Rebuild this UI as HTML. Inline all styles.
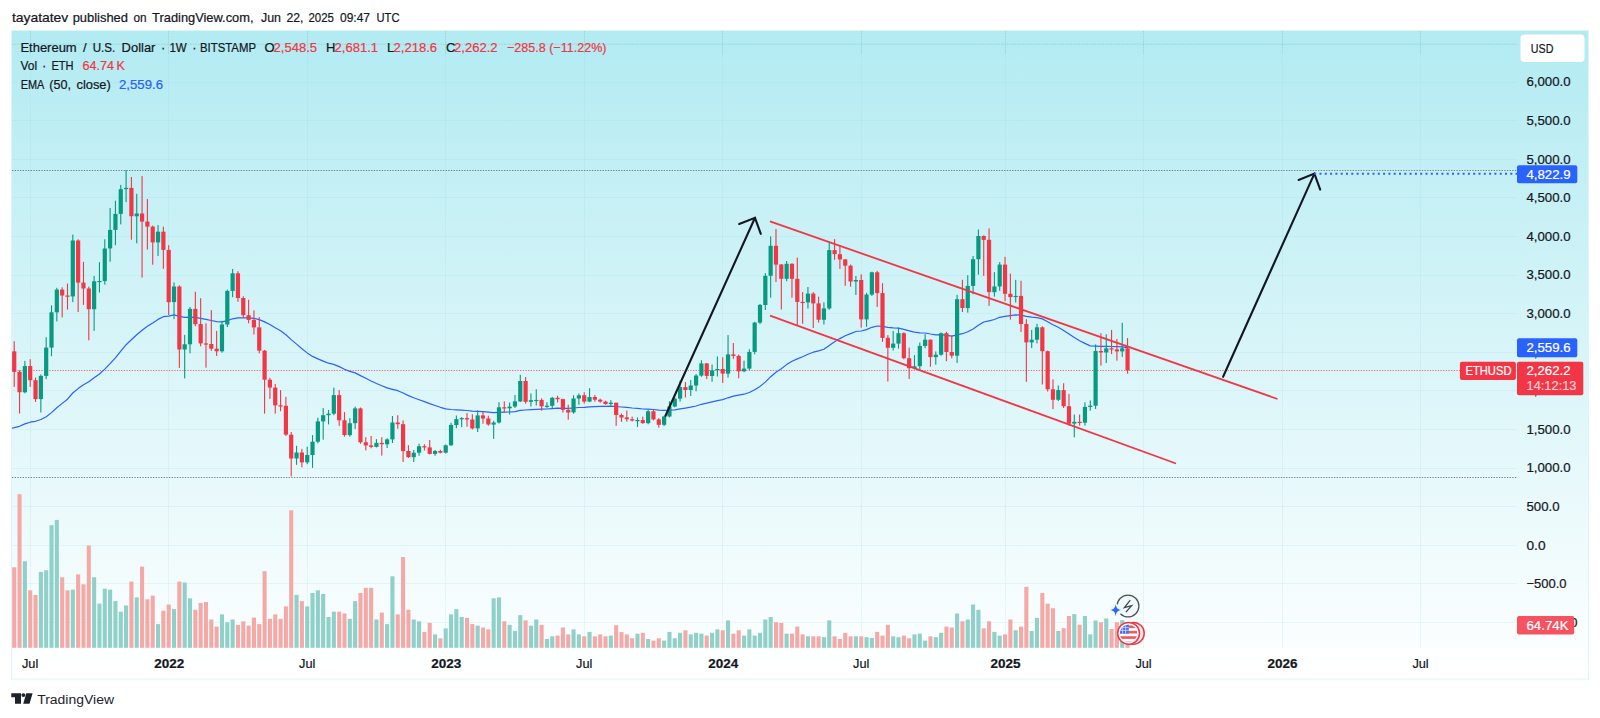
<!DOCTYPE html>
<html><head><meta charset="utf-8"><title>ETHUSD</title>
<style>
html,body{margin:0;padding:0;background:#fff;}
body{width:1600px;height:718px;overflow:hidden;font-family:"Liberation Sans", sans-serif;}
svg{display:block}
text{font-family:"Liberation Sans", sans-serif;}
</style></head><body>
<svg width="1600" height="718" viewBox="0 0 1600 718">
<defs>
<linearGradient id="bg" x1="0" y1="0" x2="0" y2="1">
<stop offset="0" stop-color="#b2ebf2"/><stop offset="1" stop-color="#ffffff"/>
</linearGradient>
<clipPath id="pane"><rect x="12" y="30" width="1505" height="618"/></clipPath>
</defs>
<rect x="0" y="0" width="1600" height="718" fill="#fff"/>
<rect x="11.5" y="30" width="1577.5" height="649" fill="url(#bg)"/>
<rect x="12" y="648" width="1577" height="31" fill="#ffffff" opacity="0.55"/>

<g stroke="#8fd3dc" stroke-opacity="0.16" stroke-width="1" shape-rendering="crispEdges">
<line x1="12" y1="622.5" x2="1517" y2="622.5"/>
<line x1="12" y1="583.5" x2="1517" y2="583.5"/>
<line x1="12" y1="545.5" x2="1517" y2="545.5"/>
<line x1="12" y1="506.5" x2="1517" y2="506.5"/>
<line x1="12" y1="468.5" x2="1517" y2="468.5"/>
<line x1="12" y1="429.5" x2="1517" y2="429.5"/>
<line x1="12" y1="390.5" x2="1517" y2="390.5"/>
<line x1="12" y1="352.5" x2="1517" y2="352.5"/>
<line x1="12" y1="313.5" x2="1517" y2="313.5"/>
<line x1="12" y1="275.5" x2="1517" y2="275.5"/>
<line x1="12" y1="236.5" x2="1517" y2="236.5"/>
<line x1="12" y1="197.5" x2="1517" y2="197.5"/>
<line x1="12" y1="159.5" x2="1517" y2="159.5"/>
<line x1="12" y1="120.5" x2="1517" y2="120.5"/>
<line x1="12" y1="82.5" x2="1517" y2="82.5"/>
<line x1="12" y1="43.5" x2="1517" y2="43.5"/>
<line x1="30.5" y1="30" x2="30.5" y2="648"/>
<line x1="168.5" y1="30" x2="168.5" y2="648"/>
<line x1="307.5" y1="30" x2="307.5" y2="648"/>
<line x1="445.5" y1="30" x2="445.5" y2="648"/>
<line x1="584.5" y1="30" x2="584.5" y2="648"/>
<line x1="722.5" y1="30" x2="722.5" y2="648"/>
<line x1="861.5" y1="30" x2="861.5" y2="648"/>
<line x1="1005.5" y1="30" x2="1005.5" y2="648"/>
<line x1="1143.5" y1="30" x2="1143.5" y2="648"/>
<line x1="1282.5" y1="30" x2="1282.5" y2="648"/>
<line x1="1420.5" y1="30" x2="1420.5" y2="648"/>
</g>
<g stroke="#7fbcb8" stroke-opacity="0.42" stroke-width="1" stroke-dasharray="1.33 1.33">
<line x1="12" y1="44.5" x2="1517" y2="44.5"/>
<line x1="30.5" y1="31" x2="30.5" y2="55"/>
<line x1="168.5" y1="31" x2="168.5" y2="55"/>
<line x1="307.5" y1="31" x2="307.5" y2="55"/>
<line x1="445.5" y1="31" x2="445.5" y2="55"/>
<line x1="584.5" y1="31" x2="584.5" y2="55"/>
<line x1="722.5" y1="31" x2="722.5" y2="55"/>
<line x1="861.5" y1="31" x2="861.5" y2="55"/>
<line x1="1005.5" y1="31" x2="1005.5" y2="55"/>
<line x1="1143.5" y1="31" x2="1143.5" y2="55"/>
<line x1="1282.5" y1="31" x2="1282.5" y2="55"/>
<line x1="1420.5" y1="31" x2="1420.5" y2="55"/>
</g>
<rect x="11.5" y="30.5" width="1577" height="648.5" fill="none" stroke="#def4f7" stroke-width="1"/>
<g clip-path="url(#pane)">
<g>
<rect x="12.17" y="567.3" width="4.1" height="80.5" fill="#f5a9a7"/>
<rect x="17.50" y="494.2" width="4.1" height="153.6" fill="#f5a9a7"/>
<rect x="22.82" y="561.3" width="4.1" height="86.5" fill="#8fd0c9"/>
<rect x="28.15" y="590.3" width="4.1" height="57.5" fill="#f5a9a7"/>
<rect x="33.48" y="594.9" width="4.1" height="52.9" fill="#f5a9a7"/>
<rect x="38.80" y="571.9" width="4.1" height="75.9" fill="#8fd0c9"/>
<rect x="44.13" y="570.3" width="4.1" height="77.5" fill="#8fd0c9"/>
<rect x="49.46" y="525.2" width="4.1" height="122.6" fill="#8fd0c9"/>
<rect x="54.78" y="519.9" width="4.1" height="127.9" fill="#8fd0c9"/>
<rect x="60.11" y="577.2" width="4.1" height="70.6" fill="#f5a9a7"/>
<rect x="65.44" y="590.3" width="4.1" height="57.5" fill="#f5a9a7"/>
<rect x="70.77" y="589.6" width="4.1" height="58.2" fill="#8fd0c9"/>
<rect x="76.09" y="574.4" width="4.1" height="73.4" fill="#f5a9a7"/>
<rect x="81.42" y="584.3" width="4.1" height="63.5" fill="#f5a9a7"/>
<rect x="86.75" y="545.5" width="4.1" height="102.3" fill="#f5a9a7"/>
<rect x="92.07" y="577.2" width="4.1" height="70.6" fill="#8fd0c9"/>
<rect x="97.40" y="603.6" width="4.1" height="44.2" fill="#8fd0c9"/>
<rect x="102.73" y="588.7" width="4.1" height="59.1" fill="#8fd0c9"/>
<rect x="108.06" y="589.6" width="4.1" height="58.2" fill="#8fd0c9"/>
<rect x="113.38" y="601.1" width="4.1" height="46.7" fill="#8fd0c9"/>
<rect x="118.71" y="611.7" width="4.1" height="36.1" fill="#8fd0c9"/>
<rect x="124.04" y="605.5" width="4.1" height="42.3" fill="#8fd0c9"/>
<rect x="129.36" y="581.6" width="4.1" height="66.2" fill="#f5a9a7"/>
<rect x="134.69" y="597.4" width="4.1" height="50.4" fill="#8fd0c9"/>
<rect x="140.02" y="566.6" width="4.1" height="81.2" fill="#f5a9a7"/>
<rect x="145.34" y="599.3" width="4.1" height="48.5" fill="#f5a9a7"/>
<rect x="150.67" y="595.6" width="4.1" height="52.2" fill="#f5a9a7"/>
<rect x="156.00" y="624.1" width="4.1" height="23.7" fill="#8fd0c9"/>
<rect x="161.32" y="610.7" width="4.1" height="37.1" fill="#f5a9a7"/>
<rect x="166.65" y="604.5" width="4.1" height="43.3" fill="#f5a9a7"/>
<rect x="171.98" y="609.1" width="4.1" height="38.7" fill="#8fd0c9"/>
<rect x="177.31" y="581.6" width="4.1" height="66.2" fill="#f5a9a7"/>
<rect x="182.63" y="582.5" width="4.1" height="65.3" fill="#8fd0c9"/>
<rect x="187.96" y="598.3" width="4.1" height="49.5" fill="#8fd0c9"/>
<rect x="193.29" y="609.8" width="4.1" height="38.0" fill="#f5a9a7"/>
<rect x="198.61" y="602.9" width="4.1" height="44.9" fill="#f5a9a7"/>
<rect x="203.94" y="602.0" width="4.1" height="45.8" fill="#f5a9a7"/>
<rect x="209.27" y="619.5" width="4.1" height="28.3" fill="#f5a9a7"/>
<rect x="214.59" y="626.6" width="4.1" height="21.2" fill="#f5a9a7"/>
<rect x="219.92" y="614.4" width="4.1" height="33.4" fill="#8fd0c9"/>
<rect x="225.25" y="622.2" width="4.1" height="25.6" fill="#8fd0c9"/>
<rect x="230.58" y="619.5" width="4.1" height="28.3" fill="#8fd0c9"/>
<rect x="235.90" y="625.0" width="4.1" height="22.8" fill="#f5a9a7"/>
<rect x="241.23" y="621.3" width="4.1" height="26.5" fill="#f5a9a7"/>
<rect x="246.56" y="625.7" width="4.1" height="22.1" fill="#f5a9a7"/>
<rect x="251.88" y="617.6" width="4.1" height="30.2" fill="#f5a9a7"/>
<rect x="257.21" y="624.1" width="4.1" height="23.7" fill="#f5a9a7"/>
<rect x="262.54" y="571.2" width="4.1" height="76.6" fill="#f5a9a7"/>
<rect x="267.87" y="618.8" width="4.1" height="29.0" fill="#f5a9a7"/>
<rect x="273.19" y="614.4" width="4.1" height="33.4" fill="#f5a9a7"/>
<rect x="278.52" y="618.8" width="4.1" height="29.0" fill="#f5a9a7"/>
<rect x="283.85" y="606.4" width="4.1" height="41.4" fill="#f5a9a7"/>
<rect x="289.17" y="510.3" width="4.1" height="137.5" fill="#f5a9a7"/>
<rect x="294.50" y="594.9" width="4.1" height="52.9" fill="#8fd0c9"/>
<rect x="299.83" y="601.1" width="4.1" height="46.7" fill="#f5a9a7"/>
<rect x="305.15" y="606.4" width="4.1" height="41.4" fill="#8fd0c9"/>
<rect x="310.48" y="593.0" width="4.1" height="54.8" fill="#8fd0c9"/>
<rect x="315.81" y="590.3" width="4.1" height="57.5" fill="#8fd0c9"/>
<rect x="321.13" y="594.0" width="4.1" height="53.8" fill="#8fd0c9"/>
<rect x="326.46" y="617.0" width="4.1" height="30.8" fill="#8fd0c9"/>
<rect x="331.79" y="611.7" width="4.1" height="36.1" fill="#8fd0c9"/>
<rect x="337.12" y="611.7" width="4.1" height="36.1" fill="#f5a9a7"/>
<rect x="342.44" y="613.5" width="4.1" height="34.3" fill="#f5a9a7"/>
<rect x="347.77" y="618.8" width="4.1" height="29.0" fill="#8fd0c9"/>
<rect x="353.10" y="601.1" width="4.1" height="46.7" fill="#8fd0c9"/>
<rect x="358.42" y="593.0" width="4.1" height="54.8" fill="#f5a9a7"/>
<rect x="363.75" y="587.8" width="4.1" height="60.0" fill="#f5a9a7"/>
<rect x="369.08" y="587.8" width="4.1" height="60.0" fill="#f5a9a7"/>
<rect x="374.40" y="619.5" width="4.1" height="28.3" fill="#8fd0c9"/>
<rect x="379.73" y="612.6" width="4.1" height="35.2" fill="#f5a9a7"/>
<rect x="385.06" y="624.1" width="4.1" height="23.7" fill="#8fd0c9"/>
<rect x="390.39" y="576.3" width="4.1" height="71.5" fill="#8fd0c9"/>
<rect x="395.71" y="614.4" width="4.1" height="33.4" fill="#f5a9a7"/>
<rect x="401.04" y="557.0" width="4.1" height="90.8" fill="#f5a9a7"/>
<rect x="406.37" y="609.8" width="4.1" height="38.0" fill="#f5a9a7"/>
<rect x="411.69" y="619.5" width="4.1" height="28.3" fill="#8fd0c9"/>
<rect x="417.02" y="621.3" width="4.1" height="26.5" fill="#8fd0c9"/>
<rect x="422.35" y="631.9" width="4.1" height="15.9" fill="#f5a9a7"/>
<rect x="427.67" y="622.9" width="4.1" height="24.9" fill="#f5a9a7"/>
<rect x="433.00" y="634.4" width="4.1" height="13.4" fill="#8fd0c9"/>
<rect x="438.33" y="638.3" width="4.1" height="9.5" fill="#f5a9a7"/>
<rect x="443.66" y="628.4" width="4.1" height="19.4" fill="#8fd0c9"/>
<rect x="448.98" y="614.4" width="4.1" height="33.4" fill="#8fd0c9"/>
<rect x="454.31" y="609.1" width="4.1" height="38.7" fill="#8fd0c9"/>
<rect x="459.64" y="617.0" width="4.1" height="30.8" fill="#8fd0c9"/>
<rect x="464.96" y="617.9" width="4.1" height="29.9" fill="#f5a9a7"/>
<rect x="470.29" y="624.1" width="4.1" height="23.7" fill="#f5a9a7"/>
<rect x="475.62" y="625.7" width="4.1" height="22.1" fill="#8fd0c9"/>
<rect x="480.94" y="627.5" width="4.1" height="20.3" fill="#f5a9a7"/>
<rect x="486.27" y="629.4" width="4.1" height="18.4" fill="#f5a9a7"/>
<rect x="491.60" y="598.3" width="4.1" height="49.5" fill="#8fd0c9"/>
<rect x="496.93" y="597.4" width="4.1" height="50.4" fill="#8fd0c9"/>
<rect x="502.25" y="621.3" width="4.1" height="26.5" fill="#f5a9a7"/>
<rect x="507.58" y="624.8" width="4.1" height="23.0" fill="#8fd0c9"/>
<rect x="512.91" y="631.0" width="4.1" height="16.8" fill="#8fd0c9"/>
<rect x="518.23" y="615.1" width="4.1" height="32.7" fill="#8fd0c9"/>
<rect x="523.56" y="620.4" width="4.1" height="27.4" fill="#f5a9a7"/>
<rect x="528.89" y="625.7" width="4.1" height="22.1" fill="#8fd0c9"/>
<rect x="534.22" y="619.5" width="4.1" height="28.3" fill="#8fd0c9"/>
<rect x="539.54" y="624.8" width="4.1" height="23.0" fill="#f5a9a7"/>
<rect x="544.87" y="639.0" width="4.1" height="8.8" fill="#8fd0c9"/>
<rect x="550.20" y="636.3" width="4.1" height="11.5" fill="#8fd0c9"/>
<rect x="555.52" y="635.6" width="4.1" height="12.2" fill="#f5a9a7"/>
<rect x="560.85" y="627.5" width="4.1" height="20.3" fill="#f5a9a7"/>
<rect x="566.18" y="634.4" width="4.1" height="13.4" fill="#f5a9a7"/>
<rect x="571.50" y="629.4" width="4.1" height="18.4" fill="#8fd0c9"/>
<rect x="576.83" y="634.4" width="4.1" height="13.4" fill="#8fd0c9"/>
<rect x="582.16" y="636.3" width="4.1" height="11.5" fill="#f5a9a7"/>
<rect x="587.49" y="631.9" width="4.1" height="15.9" fill="#8fd0c9"/>
<rect x="592.81" y="636.3" width="4.1" height="11.5" fill="#f5a9a7"/>
<rect x="598.14" y="634.4" width="4.1" height="13.4" fill="#f5a9a7"/>
<rect x="603.47" y="636.3" width="4.1" height="11.5" fill="#f5a9a7"/>
<rect x="608.79" y="635.6" width="4.1" height="12.2" fill="#8fd0c9"/>
<rect x="614.12" y="625.2" width="4.1" height="22.6" fill="#f5a9a7"/>
<rect x="619.45" y="632.1" width="4.1" height="15.7" fill="#f5a9a7"/>
<rect x="624.77" y="634.4" width="4.1" height="13.4" fill="#f5a9a7"/>
<rect x="630.10" y="638.3" width="4.1" height="9.5" fill="#f5a9a7"/>
<rect x="635.43" y="633.7" width="4.1" height="14.1" fill="#8fd0c9"/>
<rect x="640.76" y="632.8" width="4.1" height="15.0" fill="#f5a9a7"/>
<rect x="646.08" y="639.0" width="4.1" height="8.8" fill="#8fd0c9"/>
<rect x="651.41" y="640.6" width="4.1" height="7.2" fill="#f5a9a7"/>
<rect x="656.74" y="638.3" width="4.1" height="9.5" fill="#f5a9a7"/>
<rect x="662.06" y="640.6" width="4.1" height="7.2" fill="#8fd0c9"/>
<rect x="667.39" y="631.9" width="4.1" height="15.9" fill="#8fd0c9"/>
<rect x="672.72" y="638.3" width="4.1" height="9.5" fill="#8fd0c9"/>
<rect x="678.04" y="632.8" width="4.1" height="15.0" fill="#8fd0c9"/>
<rect x="683.37" y="630.3" width="4.1" height="17.5" fill="#f5a9a7"/>
<rect x="688.70" y="634.4" width="4.1" height="13.4" fill="#8fd0c9"/>
<rect x="694.03" y="632.8" width="4.1" height="15.0" fill="#8fd0c9"/>
<rect x="699.35" y="633.7" width="4.1" height="14.1" fill="#8fd0c9"/>
<rect x="704.68" y="635.6" width="4.1" height="12.2" fill="#f5a9a7"/>
<rect x="710.01" y="632.8" width="4.1" height="15.0" fill="#8fd0c9"/>
<rect x="715.33" y="629.4" width="4.1" height="18.4" fill="#8fd0c9"/>
<rect x="720.66" y="630.3" width="4.1" height="17.5" fill="#f5a9a7"/>
<rect x="725.99" y="620.4" width="4.1" height="27.4" fill="#8fd0c9"/>
<rect x="731.31" y="633.7" width="4.1" height="14.1" fill="#f5a9a7"/>
<rect x="736.64" y="630.3" width="4.1" height="17.5" fill="#f5a9a7"/>
<rect x="741.97" y="635.6" width="4.1" height="12.2" fill="#8fd0c9"/>
<rect x="747.30" y="629.4" width="4.1" height="18.4" fill="#8fd0c9"/>
<rect x="752.62" y="635.6" width="4.1" height="12.2" fill="#8fd0c9"/>
<rect x="757.95" y="632.8" width="4.1" height="15.0" fill="#8fd0c9"/>
<rect x="763.28" y="619.5" width="4.1" height="28.3" fill="#8fd0c9"/>
<rect x="768.60" y="617.0" width="4.1" height="30.8" fill="#8fd0c9"/>
<rect x="773.93" y="622.2" width="4.1" height="25.6" fill="#f5a9a7"/>
<rect x="779.26" y="622.9" width="4.1" height="24.9" fill="#f5a9a7"/>
<rect x="784.58" y="633.7" width="4.1" height="14.1" fill="#8fd0c9"/>
<rect x="789.91" y="633.7" width="4.1" height="14.1" fill="#f5a9a7"/>
<rect x="795.24" y="626.6" width="4.1" height="21.2" fill="#f5a9a7"/>
<rect x="800.57" y="634.4" width="4.1" height="13.4" fill="#f5a9a7"/>
<rect x="805.89" y="636.3" width="4.1" height="11.5" fill="#8fd0c9"/>
<rect x="811.22" y="636.3" width="4.1" height="11.5" fill="#f5a9a7"/>
<rect x="816.55" y="636.3" width="4.1" height="11.5" fill="#f5a9a7"/>
<rect x="821.87" y="637.2" width="4.1" height="10.6" fill="#8fd0c9"/>
<rect x="827.20" y="620.4" width="4.1" height="27.4" fill="#8fd0c9"/>
<rect x="832.53" y="636.3" width="4.1" height="11.5" fill="#f5a9a7"/>
<rect x="837.85" y="639.0" width="4.1" height="8.8" fill="#f5a9a7"/>
<rect x="843.18" y="632.8" width="4.1" height="15.0" fill="#f5a9a7"/>
<rect x="848.51" y="636.3" width="4.1" height="11.5" fill="#f5a9a7"/>
<rect x="853.84" y="636.3" width="4.1" height="11.5" fill="#8fd0c9"/>
<rect x="859.16" y="636.3" width="4.1" height="11.5" fill="#f5a9a7"/>
<rect x="864.49" y="637.2" width="4.1" height="10.6" fill="#8fd0c9"/>
<rect x="869.82" y="637.9" width="4.1" height="9.9" fill="#8fd0c9"/>
<rect x="875.14" y="631.9" width="4.1" height="15.9" fill="#f5a9a7"/>
<rect x="880.47" y="635.6" width="4.1" height="12.2" fill="#f5a9a7"/>
<rect x="885.80" y="624.8" width="4.1" height="23.0" fill="#f5a9a7"/>
<rect x="891.12" y="636.3" width="4.1" height="11.5" fill="#8fd0c9"/>
<rect x="896.45" y="637.2" width="4.1" height="10.6" fill="#8fd0c9"/>
<rect x="901.78" y="635.6" width="4.1" height="12.2" fill="#f5a9a7"/>
<rect x="907.11" y="638.3" width="4.1" height="9.5" fill="#f5a9a7"/>
<rect x="912.43" y="634.4" width="4.1" height="13.4" fill="#8fd0c9"/>
<rect x="917.76" y="633.7" width="4.1" height="14.1" fill="#8fd0c9"/>
<rect x="923.09" y="640.6" width="4.1" height="7.2" fill="#8fd0c9"/>
<rect x="928.41" y="636.3" width="4.1" height="11.5" fill="#f5a9a7"/>
<rect x="933.74" y="637.2" width="4.1" height="10.6" fill="#8fd0c9"/>
<rect x="939.07" y="632.8" width="4.1" height="15.0" fill="#8fd0c9"/>
<rect x="944.39" y="626.6" width="4.1" height="21.2" fill="#f5a9a7"/>
<rect x="949.72" y="627.5" width="4.1" height="20.3" fill="#f5a9a7"/>
<rect x="955.05" y="613.5" width="4.1" height="34.3" fill="#8fd0c9"/>
<rect x="960.38" y="621.3" width="4.1" height="26.5" fill="#f5a9a7"/>
<rect x="965.70" y="619.5" width="4.1" height="28.3" fill="#8fd0c9"/>
<rect x="971.03" y="604.5" width="4.1" height="43.3" fill="#8fd0c9"/>
<rect x="976.36" y="609.8" width="4.1" height="38.0" fill="#8fd0c9"/>
<rect x="981.68" y="628.4" width="4.1" height="19.4" fill="#f5a9a7"/>
<rect x="987.01" y="621.3" width="4.1" height="26.5" fill="#f5a9a7"/>
<rect x="992.34" y="631.9" width="4.1" height="15.9" fill="#8fd0c9"/>
<rect x="997.66" y="635.6" width="4.1" height="12.2" fill="#8fd0c9"/>
<rect x="1002.99" y="634.4" width="4.1" height="13.4" fill="#f5a9a7"/>
<rect x="1008.32" y="619.5" width="4.1" height="28.3" fill="#f5a9a7"/>
<rect x="1013.65" y="630.3" width="4.1" height="17.5" fill="#8fd0c9"/>
<rect x="1018.97" y="626.6" width="4.1" height="21.2" fill="#f5a9a7"/>
<rect x="1024.30" y="586.8" width="4.1" height="61.0" fill="#f5a9a7"/>
<rect x="1029.63" y="631.0" width="4.1" height="16.8" fill="#8fd0c9"/>
<rect x="1034.95" y="617.9" width="4.1" height="29.9" fill="#8fd0c9"/>
<rect x="1040.28" y="593.0" width="4.1" height="54.8" fill="#f5a9a7"/>
<rect x="1045.61" y="603.6" width="4.1" height="44.2" fill="#f5a9a7"/>
<rect x="1050.93" y="608.2" width="4.1" height="39.6" fill="#f5a9a7"/>
<rect x="1056.26" y="631.0" width="4.1" height="16.8" fill="#8fd0c9"/>
<rect x="1061.59" y="628.2" width="4.1" height="19.6" fill="#f5a9a7"/>
<rect x="1066.92" y="616.0" width="4.1" height="31.8" fill="#f5a9a7"/>
<rect x="1072.24" y="614.1" width="4.1" height="33.7" fill="#8fd0c9"/>
<rect x="1077.57" y="624.7" width="4.1" height="23.1" fill="#f5a9a7"/>
<rect x="1082.90" y="616.0" width="4.1" height="31.8" fill="#8fd0c9"/>
<rect x="1088.22" y="634.4" width="4.1" height="13.4" fill="#8fd0c9"/>
<rect x="1093.55" y="620.5" width="4.1" height="27.3" fill="#8fd0c9"/>
<rect x="1098.88" y="622.2" width="4.1" height="25.6" fill="#f5a9a7"/>
<rect x="1104.20" y="618.5" width="4.1" height="29.3" fill="#8fd0c9"/>
<rect x="1109.53" y="629.0" width="4.1" height="18.8" fill="#f5a9a7"/>
<rect x="1114.86" y="622.2" width="4.1" height="25.6" fill="#f5a9a7"/>
<rect x="1120.19" y="620.2" width="4.1" height="27.6" fill="#8fd0c9"/>
<rect x="1125.51" y="625.0" width="4.1" height="22.8" fill="#f5a9a7"/>
</g>
<g stroke="#5f6f73" stroke-opacity="0.85" stroke-width="1" stroke-dasharray="1.33 1.33">
<line x1="12" y1="170.5" x2="1517" y2="170.5"/>
<line x1="12" y1="477.5" x2="1517" y2="477.5"/>
</g>
<line x1="12" y1="370.5" x2="1517" y2="370.5" stroke="#f23645" stroke-opacity="0.7" stroke-width="1" stroke-dasharray="1.33 1.33"/>
<polyline points="8,428.9 14.2,427.7 19.5,426.3 24.9,423.9 30.2,422.2 35.5,421.3 40.9,419.5 46.2,416.7 51.5,412.6 56.8,407.8 62.2,403.4 67.5,399.2 72.8,393.0 78.1,388.6 83.5,384.7 88.8,381.7 94.1,377.8 99.5,374.0 104.8,369.1 110.1,363.6 115.4,357.8 120.8,351.1 126.1,344.7 131.4,339.7 136.7,334.8 142.1,330.3 147.4,326.3 152.7,323.0 158.0,319.4 163.4,316.7 168.7,316.1 174.0,314.9 179.4,316.3 184.7,317.4 190.0,317.1 195.3,317.3 200.7,318.4 206.0,319.4 211.3,320.5 216.6,321.7 222.0,321.8 227.3,320.6 232.6,318.8 238.0,317.9 243.3,317.8 248.6,317.9 253.9,318.3 259.3,319.6 264.6,321.9 269.9,324.5 275.2,327.7 280.6,330.7 285.9,334.8 291.2,339.6 296.6,344.1 301.9,348.7 307.2,352.9 312.5,356.4 317.9,358.9 323.2,361.1 328.5,363.2 333.8,364.4 339.2,366.6 344.5,369.3 349.8,371.4 355.1,372.9 360.5,375.6 365.8,378.3 371.1,381.0 376.5,383.5 381.8,385.8 387.1,387.9 392.4,389.3 397.8,390.7 403.1,393.0 408.4,395.6 413.7,397.8 419.1,399.7 424.4,401.6 429.7,403.6 435.1,405.5 440.4,407.3 445.7,408.8 451.0,409.5 456.4,409.8 461.7,410.2 467.0,410.5 472.3,411.2 477.7,411.4 483.0,411.7 488.3,412.2 493.6,412.6 499.0,412.4 504.3,412.2 509.6,412.0 515.0,411.6 520.3,410.4 525.6,410.0 530.9,409.7 536.3,409.3 541.6,409.2 546.9,409.0 552.2,408.6 557.6,408.2 562.9,408.3 568.2,408.4 573.6,408.0 578.9,407.5 584.2,407.3 589.5,406.9 594.9,406.6 600.2,406.4 605.5,406.3 610.8,406.2 616.2,406.5 621.5,407.0 626.8,407.4 632.2,408.0 637.5,408.4 642.8,409.0 648.1,409.1 653.5,409.5 658.8,410.1 664.1,410.4 669.4,410.2 674.8,409.8 680.1,408.9 685.4,408.1 690.7,407.2 696.1,406.0 701.4,404.3 706.7,403.2 712.1,401.9 717.4,400.6 722.7,399.6 728.0,397.8 733.4,396.2 738.7,395.2 744.0,394.2 749.3,392.5 754.7,389.8 760.0,386.4 765.3,382.1 770.7,376.7 776.0,372.3 781.3,368.7 786.6,364.6 792.0,361.2 797.3,358.9 802.6,356.7 807.9,354.2 813.3,352.2 818.6,350.9 823.9,349.3 829.2,345.4 834.6,341.8 839.9,338.6 845.2,335.7 850.6,333.6 855.9,331.5 861.2,331.0 866.5,329.6 871.9,327.3 877.2,326.0 882.5,326.4 887.8,327.3 893.2,327.9 898.5,328.1 903.8,329.3 909.2,330.8 914.5,332.2 919.8,332.8 925.1,333.0 930.5,334.0 935.8,334.8 941.1,334.7 946.4,335.4 951.8,336.2 957.1,334.8 962.4,333.7 967.8,331.8 973.1,329.0 978.4,325.3 983.7,322.0 989.1,320.8 994.4,319.5 999.7,317.3 1005.0,316.4 1010.4,315.6 1015.7,314.9 1021.0,315.2 1026.3,316.3 1031.7,317.2 1037.0,317.6 1042.3,318.9 1047.7,321.7 1053.0,324.7 1058.3,327.3 1063.6,330.4 1069.0,334.0 1074.3,337.5 1079.6,340.8 1084.9,343.4 1090.3,345.9 1095.6,346.1 1100.9,346.3 1106.3,346.4 1111.6,346.5 1116.9,346.7 1122.2,346.8 1127.6,347.7" fill="none" stroke="#2962ff" stroke-width="1.2" stroke-linejoin="round"/>
<g>
<rect x="13.67" y="341.2" width="1.1" height="45.7" fill="#f23645"/>
<rect x="12.12" y="351.4" width="4.2" height="20.5" fill="#f23645"/>
<rect x="19.00" y="370.4" width="1.1" height="43.1" fill="#f23645"/>
<rect x="17.45" y="371.8" width="4.2" height="20.4" fill="#f23645"/>
<rect x="24.32" y="360.9" width="1.1" height="32.4" fill="#089981"/>
<rect x="22.77" y="366.0" width="4.2" height="26.3" fill="#089981"/>
<rect x="29.65" y="359.2" width="1.1" height="27.7" fill="#f23645"/>
<rect x="28.10" y="366.0" width="4.2" height="14.2" fill="#f23645"/>
<rect x="34.98" y="377.5" width="1.1" height="24.4" fill="#f23645"/>
<rect x="33.43" y="380.2" width="4.2" height="18.9" fill="#f23645"/>
<rect x="40.30" y="374.4" width="1.1" height="38.1" fill="#089981"/>
<rect x="38.75" y="375.9" width="4.2" height="23.2" fill="#089981"/>
<rect x="45.63" y="337.2" width="1.1" height="41.9" fill="#089981"/>
<rect x="44.08" y="347.6" width="4.2" height="28.3" fill="#089981"/>
<rect x="50.96" y="305.3" width="1.1" height="50.9" fill="#089981"/>
<rect x="49.41" y="312.3" width="4.2" height="35.3" fill="#089981"/>
<rect x="56.28" y="287.8" width="1.1" height="33.6" fill="#089981"/>
<rect x="54.73" y="289.6" width="4.2" height="22.7" fill="#089981"/>
<rect x="61.61" y="287.3" width="1.1" height="30.1" fill="#f23645"/>
<rect x="60.06" y="289.6" width="4.2" height="5.9" fill="#f23645"/>
<rect x="66.94" y="283.6" width="1.1" height="26.0" fill="#f23645"/>
<rect x="65.39" y="295.5" width="4.2" height="1.2" fill="#f23645"/>
<rect x="72.27" y="234.6" width="1.1" height="67.5" fill="#089981"/>
<rect x="70.72" y="240.5" width="4.2" height="55.9" fill="#089981"/>
<rect x="77.59" y="239.3" width="1.1" height="72.7" fill="#f23645"/>
<rect x="76.04" y="240.5" width="4.2" height="42.1" fill="#f23645"/>
<rect x="82.92" y="261.8" width="1.1" height="43.1" fill="#f23645"/>
<rect x="81.37" y="282.6" width="4.2" height="5.9" fill="#f23645"/>
<rect x="88.25" y="286.6" width="1.1" height="53.7" fill="#f23645"/>
<rect x="86.70" y="288.5" width="4.2" height="20.7" fill="#f23645"/>
<rect x="93.57" y="276.0" width="1.1" height="54.9" fill="#089981"/>
<rect x="92.02" y="281.3" width="4.2" height="27.9" fill="#089981"/>
<rect x="98.90" y="262.2" width="1.1" height="30.3" fill="#089981"/>
<rect x="97.35" y="281.0" width="4.2" height="1.2" fill="#089981"/>
<rect x="104.23" y="239.3" width="1.1" height="45.4" fill="#089981"/>
<rect x="102.68" y="248.5" width="4.2" height="32.6" fill="#089981"/>
<rect x="109.56" y="208.0" width="1.1" height="53.7" fill="#089981"/>
<rect x="108.01" y="229.9" width="4.2" height="18.5" fill="#089981"/>
<rect x="114.88" y="200.7" width="1.1" height="44.5" fill="#089981"/>
<rect x="113.33" y="213.9" width="4.2" height="16.0" fill="#089981"/>
<rect x="120.21" y="184.9" width="1.1" height="39.5" fill="#089981"/>
<rect x="118.66" y="189.2" width="4.2" height="24.7" fill="#089981"/>
<rect x="125.54" y="169.9" width="1.1" height="32.2" fill="#089981"/>
<rect x="123.99" y="187.9" width="4.2" height="1.2" fill="#089981"/>
<rect x="130.86" y="177.0" width="1.1" height="62.7" fill="#f23645"/>
<rect x="129.31" y="187.9" width="4.2" height="28.3" fill="#f23645"/>
<rect x="136.19" y="193.8" width="1.1" height="49.5" fill="#089981"/>
<rect x="134.64" y="213.5" width="4.2" height="2.8" fill="#089981"/>
<rect x="141.52" y="176.1" width="1.1" height="101.5" fill="#f23645"/>
<rect x="139.97" y="213.5" width="4.2" height="8.1" fill="#f23645"/>
<rect x="146.84" y="199.1" width="1.1" height="50.4" fill="#f23645"/>
<rect x="145.29" y="221.6" width="4.2" height="5.0" fill="#f23645"/>
<rect x="152.17" y="225.6" width="1.1" height="39.1" fill="#f23645"/>
<rect x="150.62" y="226.6" width="4.2" height="15.8" fill="#f23645"/>
<rect x="157.50" y="225.1" width="1.1" height="30.8" fill="#089981"/>
<rect x="155.95" y="231.7" width="4.2" height="10.7" fill="#089981"/>
<rect x="162.82" y="226.7" width="1.1" height="42.1" fill="#f23645"/>
<rect x="161.28" y="231.7" width="4.2" height="18.2" fill="#f23645"/>
<rect x="168.15" y="245.2" width="1.1" height="69.8" fill="#f23645"/>
<rect x="166.60" y="249.9" width="4.2" height="52.3" fill="#f23645"/>
<rect x="173.48" y="282.4" width="1.1" height="36.7" fill="#089981"/>
<rect x="171.93" y="286.5" width="4.2" height="15.6" fill="#089981"/>
<rect x="178.81" y="285.4" width="1.1" height="82.5" fill="#f23645"/>
<rect x="177.26" y="286.5" width="4.2" height="63.0" fill="#f23645"/>
<rect x="184.13" y="334.9" width="1.1" height="43.5" fill="#089981"/>
<rect x="182.58" y="344.3" width="4.2" height="5.2" fill="#089981"/>
<rect x="189.46" y="307.0" width="1.1" height="46.3" fill="#089981"/>
<rect x="187.91" y="308.9" width="4.2" height="35.4" fill="#089981"/>
<rect x="194.79" y="291.7" width="1.1" height="34.6" fill="#f23645"/>
<rect x="193.24" y="308.9" width="4.2" height="15.3" fill="#f23645"/>
<rect x="200.11" y="298.2" width="1.1" height="48.1" fill="#f23645"/>
<rect x="198.56" y="324.1" width="4.2" height="19.3" fill="#f23645"/>
<rect x="205.44" y="323.3" width="1.1" height="44.4" fill="#f23645"/>
<rect x="203.89" y="343.4" width="4.2" height="1.2" fill="#f23645"/>
<rect x="210.77" y="310.1" width="1.1" height="40.7" fill="#f23645"/>
<rect x="209.22" y="344.0" width="4.2" height="4.7" fill="#f23645"/>
<rect x="216.09" y="330.9" width="1.1" height="25.1" fill="#f23645"/>
<rect x="214.54" y="348.7" width="4.2" height="2.6" fill="#f23645"/>
<rect x="221.42" y="320.8" width="1.1" height="31.9" fill="#089981"/>
<rect x="219.87" y="324.5" width="4.2" height="26.8" fill="#089981"/>
<rect x="226.75" y="289.6" width="1.1" height="37.4" fill="#089981"/>
<rect x="225.20" y="290.9" width="4.2" height="33.6" fill="#089981"/>
<rect x="232.08" y="269.0" width="1.1" height="28.2" fill="#089981"/>
<rect x="230.53" y="273.3" width="4.2" height="17.6" fill="#089981"/>
<rect x="237.40" y="271.2" width="1.1" height="30.6" fill="#f23645"/>
<rect x="235.85" y="273.3" width="4.2" height="24.7" fill="#f23645"/>
<rect x="242.73" y="296.3" width="1.1" height="21.4" fill="#f23645"/>
<rect x="241.18" y="298.0" width="4.2" height="17.2" fill="#f23645"/>
<rect x="248.06" y="299.7" width="1.1" height="23.6" fill="#f23645"/>
<rect x="246.51" y="315.2" width="4.2" height="4.7" fill="#f23645"/>
<rect x="253.38" y="310.4" width="1.1" height="24.2" fill="#f23645"/>
<rect x="251.83" y="319.9" width="4.2" height="7.5" fill="#f23645"/>
<rect x="258.71" y="317.1" width="1.1" height="36.2" fill="#f23645"/>
<rect x="257.16" y="327.4" width="4.2" height="23.3" fill="#f23645"/>
<rect x="264.04" y="349.9" width="1.1" height="63.7" fill="#f23645"/>
<rect x="262.49" y="350.7" width="4.2" height="29.0" fill="#f23645"/>
<rect x="269.37" y="377.8" width="1.1" height="21.1" fill="#f23645"/>
<rect x="267.81" y="379.7" width="4.2" height="7.9" fill="#f23645"/>
<rect x="274.69" y="383.9" width="1.1" height="29.7" fill="#f23645"/>
<rect x="273.14" y="387.6" width="4.2" height="17.8" fill="#f23645"/>
<rect x="280.02" y="390.1" width="1.1" height="21.1" fill="#f23645"/>
<rect x="278.47" y="405.3" width="4.2" height="1.2" fill="#f23645"/>
<rect x="285.35" y="396.8" width="1.1" height="39.2" fill="#f23645"/>
<rect x="283.80" y="405.8" width="4.2" height="28.8" fill="#f23645"/>
<rect x="290.67" y="432.0" width="1.1" height="44.4" fill="#f23645"/>
<rect x="289.12" y="434.7" width="4.2" height="23.8" fill="#f23645"/>
<rect x="296.00" y="445.8" width="1.1" height="19.0" fill="#089981"/>
<rect x="294.45" y="452.5" width="4.2" height="6.0" fill="#089981"/>
<rect x="301.33" y="448.9" width="1.1" height="18.4" fill="#f23645"/>
<rect x="299.78" y="452.5" width="4.2" height="9.9" fill="#f23645"/>
<rect x="306.65" y="446.7" width="1.1" height="17.5" fill="#089981"/>
<rect x="305.10" y="455.0" width="4.2" height="7.3" fill="#089981"/>
<rect x="311.98" y="435.1" width="1.1" height="32.8" fill="#089981"/>
<rect x="310.43" y="441.7" width="4.2" height="13.3" fill="#089981"/>
<rect x="317.31" y="417.6" width="1.1" height="25.7" fill="#089981"/>
<rect x="315.76" y="421.4" width="4.2" height="20.3" fill="#089981"/>
<rect x="322.63" y="408.1" width="1.1" height="31.6" fill="#089981"/>
<rect x="321.08" y="415.2" width="4.2" height="6.2" fill="#089981"/>
<rect x="327.96" y="410.0" width="1.1" height="14.4" fill="#089981"/>
<rect x="326.41" y="413.7" width="4.2" height="1.5" fill="#089981"/>
<rect x="333.29" y="387.6" width="1.1" height="27.6" fill="#089981"/>
<rect x="331.74" y="395.1" width="4.2" height="18.6" fill="#089981"/>
<rect x="338.62" y="390.1" width="1.1" height="35.8" fill="#f23645"/>
<rect x="337.07" y="395.1" width="4.2" height="25.2" fill="#f23645"/>
<rect x="343.94" y="412.1" width="1.1" height="24.5" fill="#f23645"/>
<rect x="342.39" y="420.3" width="4.2" height="14.8" fill="#f23645"/>
<rect x="349.27" y="418.2" width="1.1" height="18.4" fill="#089981"/>
<rect x="347.72" y="423.2" width="4.2" height="11.9" fill="#089981"/>
<rect x="354.60" y="406.6" width="1.1" height="22.4" fill="#089981"/>
<rect x="353.05" y="408.4" width="4.2" height="14.8" fill="#089981"/>
<rect x="359.92" y="407.5" width="1.1" height="36.2" fill="#f23645"/>
<rect x="358.37" y="408.4" width="4.2" height="33.9" fill="#f23645"/>
<rect x="365.25" y="437.2" width="1.1" height="13.2" fill="#f23645"/>
<rect x="363.70" y="442.3" width="4.2" height="3.1" fill="#f23645"/>
<rect x="370.58" y="436.0" width="1.1" height="12.3" fill="#f23645"/>
<rect x="369.03" y="445.4" width="4.2" height="1.5" fill="#f23645"/>
<rect x="375.90" y="439.1" width="1.1" height="8.3" fill="#089981"/>
<rect x="374.35" y="442.9" width="4.2" height="4.0" fill="#089981"/>
<rect x="381.23" y="437.2" width="1.1" height="18.4" fill="#f23645"/>
<rect x="379.68" y="442.9" width="4.2" height="1.3" fill="#f23645"/>
<rect x="386.56" y="438.2" width="1.1" height="9.8" fill="#089981"/>
<rect x="385.01" y="439.4" width="4.2" height="4.9" fill="#089981"/>
<rect x="391.89" y="416.0" width="1.1" height="27.0" fill="#089981"/>
<rect x="390.34" y="422.5" width="4.2" height="16.9" fill="#089981"/>
<rect x="397.21" y="415.2" width="1.1" height="13.5" fill="#f23645"/>
<rect x="395.66" y="422.5" width="4.2" height="1.7" fill="#f23645"/>
<rect x="402.54" y="420.5" width="1.1" height="41.5" fill="#f23645"/>
<rect x="400.99" y="424.2" width="4.2" height="26.9" fill="#f23645"/>
<rect x="407.87" y="445.2" width="1.1" height="12.7" fill="#f23645"/>
<rect x="406.32" y="451.0" width="4.2" height="6.2" fill="#f23645"/>
<rect x="413.19" y="450.0" width="1.1" height="12.0" fill="#089981"/>
<rect x="411.64" y="452.7" width="4.2" height="4.5" fill="#089981"/>
<rect x="418.52" y="443.7" width="1.1" height="12.0" fill="#089981"/>
<rect x="416.97" y="446.2" width="4.2" height="6.5" fill="#089981"/>
<rect x="423.85" y="444.2" width="1.1" height="6.3" fill="#f23645"/>
<rect x="422.30" y="446.2" width="4.2" height="1.2" fill="#f23645"/>
<rect x="429.17" y="440.0" width="1.1" height="14.5" fill="#f23645"/>
<rect x="427.62" y="447.4" width="4.2" height="6.5" fill="#f23645"/>
<rect x="434.50" y="450.0" width="1.1" height="5.7" fill="#089981"/>
<rect x="432.95" y="451.0" width="4.2" height="2.9" fill="#089981"/>
<rect x="439.83" y="449.7" width="1.1" height="3.7" fill="#f23645"/>
<rect x="438.28" y="451.0" width="4.2" height="1.7" fill="#f23645"/>
<rect x="445.16" y="444.5" width="1.1" height="9.0" fill="#089981"/>
<rect x="443.61" y="445.3" width="4.2" height="7.4" fill="#089981"/>
<rect x="450.48" y="422.7" width="1.1" height="23.2" fill="#089981"/>
<rect x="448.93" y="424.9" width="4.2" height="20.4" fill="#089981"/>
<rect x="455.81" y="415.5" width="1.1" height="12.7" fill="#089981"/>
<rect x="454.26" y="419.1" width="4.2" height="5.9" fill="#089981"/>
<rect x="461.14" y="417.2" width="1.1" height="10.0" fill="#089981"/>
<rect x="459.59" y="418.1" width="4.2" height="1.2" fill="#089981"/>
<rect x="466.46" y="413.0" width="1.1" height="13.8" fill="#f23645"/>
<rect x="464.91" y="418.1" width="4.2" height="1.3" fill="#f23645"/>
<rect x="471.79" y="414.2" width="1.1" height="15.3" fill="#f23645"/>
<rect x="470.24" y="419.5" width="4.2" height="8.9" fill="#f23645"/>
<rect x="477.12" y="410.4" width="1.1" height="21.6" fill="#089981"/>
<rect x="475.57" y="415.4" width="4.2" height="13.0" fill="#089981"/>
<rect x="482.44" y="411.9" width="1.1" height="11.8" fill="#f23645"/>
<rect x="480.89" y="415.4" width="4.2" height="3.1" fill="#f23645"/>
<rect x="487.77" y="415.7" width="1.1" height="10.0" fill="#f23645"/>
<rect x="486.22" y="418.5" width="4.2" height="6.0" fill="#f23645"/>
<rect x="493.10" y="420.8" width="1.1" height="18.1" fill="#089981"/>
<rect x="491.55" y="422.5" width="4.2" height="2.1" fill="#089981"/>
<rect x="498.43" y="402.2" width="1.1" height="21.3" fill="#089981"/>
<rect x="496.88" y="407.3" width="4.2" height="15.2" fill="#089981"/>
<rect x="503.75" y="401.4" width="1.1" height="11.2" fill="#f23645"/>
<rect x="502.20" y="407.3" width="4.2" height="1.2" fill="#f23645"/>
<rect x="509.08" y="402.5" width="1.1" height="12.0" fill="#089981"/>
<rect x="507.53" y="406.6" width="4.2" height="1.7" fill="#089981"/>
<rect x="514.41" y="395.0" width="1.1" height="13.0" fill="#089981"/>
<rect x="512.86" y="401.4" width="4.2" height="5.1" fill="#089981"/>
<rect x="519.73" y="374.8" width="1.1" height="27.3" fill="#089981"/>
<rect x="518.18" y="381.0" width="4.2" height="20.4" fill="#089981"/>
<rect x="525.06" y="377.0" width="1.1" height="26.7" fill="#f23645"/>
<rect x="523.51" y="381.0" width="4.2" height="20.8" fill="#f23645"/>
<rect x="530.39" y="393.5" width="1.1" height="13.0" fill="#089981"/>
<rect x="528.84" y="400.2" width="4.2" height="1.6" fill="#089981"/>
<rect x="535.72" y="389.3" width="1.1" height="16.2" fill="#089981"/>
<rect x="534.16" y="399.9" width="4.2" height="1.2" fill="#089981"/>
<rect x="541.04" y="398.3" width="1.1" height="12.4" fill="#f23645"/>
<rect x="539.49" y="399.9" width="4.2" height="6.4" fill="#f23645"/>
<rect x="546.37" y="402.2" width="1.1" height="6.0" fill="#089981"/>
<rect x="544.82" y="405.7" width="4.2" height="1.2" fill="#089981"/>
<rect x="551.70" y="396.9" width="1.1" height="11.5" fill="#089981"/>
<rect x="550.15" y="397.8" width="4.2" height="8.0" fill="#089981"/>
<rect x="557.02" y="395.7" width="1.1" height="6.7" fill="#f23645"/>
<rect x="555.47" y="397.8" width="4.2" height="1.4" fill="#f23645"/>
<rect x="562.35" y="398.7" width="1.1" height="13.9" fill="#f23645"/>
<rect x="560.80" y="399.1" width="4.2" height="10.7" fill="#f23645"/>
<rect x="567.68" y="404.7" width="1.1" height="15.0" fill="#f23645"/>
<rect x="566.13" y="409.8" width="4.2" height="2.7" fill="#f23645"/>
<rect x="573.00" y="395.4" width="1.1" height="18.3" fill="#089981"/>
<rect x="571.45" y="398.5" width="4.2" height="13.9" fill="#089981"/>
<rect x="578.33" y="393.5" width="1.1" height="11.2" fill="#089981"/>
<rect x="576.78" y="395.3" width="4.2" height="3.2" fill="#089981"/>
<rect x="583.66" y="392.3" width="1.1" height="11.4" fill="#f23645"/>
<rect x="582.11" y="395.3" width="4.2" height="6.3" fill="#f23645"/>
<rect x="588.99" y="388.2" width="1.1" height="13.9" fill="#089981"/>
<rect x="587.44" y="397.0" width="4.2" height="4.6" fill="#089981"/>
<rect x="594.31" y="395.0" width="1.1" height="6.7" fill="#f23645"/>
<rect x="592.76" y="397.0" width="4.2" height="2.7" fill="#f23645"/>
<rect x="599.64" y="398.7" width="1.1" height="4.0" fill="#f23645"/>
<rect x="598.09" y="399.7" width="4.2" height="1.9" fill="#f23645"/>
<rect x="604.97" y="400.7" width="1.1" height="4.0" fill="#f23645"/>
<rect x="603.42" y="401.6" width="4.2" height="2.5" fill="#f23645"/>
<rect x="610.29" y="400.2" width="1.1" height="5.5" fill="#089981"/>
<rect x="608.74" y="402.7" width="4.2" height="1.3" fill="#089981"/>
<rect x="615.62" y="402.7" width="1.1" height="23.1" fill="#f23645"/>
<rect x="614.07" y="402.7" width="4.2" height="12.3" fill="#f23645"/>
<rect x="620.95" y="413.5" width="1.1" height="8.4" fill="#f23645"/>
<rect x="619.40" y="415.0" width="4.2" height="2.5" fill="#f23645"/>
<rect x="626.27" y="410.5" width="1.1" height="11.2" fill="#f23645"/>
<rect x="624.72" y="417.4" width="4.2" height="1.8" fill="#f23645"/>
<rect x="631.60" y="416.6" width="1.1" height="4.9" fill="#f23645"/>
<rect x="630.05" y="419.2" width="4.2" height="1.3" fill="#f23645"/>
<rect x="636.93" y="417.4" width="1.1" height="9.5" fill="#089981"/>
<rect x="635.38" y="420.0" width="4.2" height="1.2" fill="#089981"/>
<rect x="642.26" y="416.6" width="1.1" height="7.2" fill="#f23645"/>
<rect x="640.71" y="420.0" width="4.2" height="3.1" fill="#f23645"/>
<rect x="647.58" y="409.7" width="1.1" height="14.6" fill="#089981"/>
<rect x="646.03" y="411.3" width="4.2" height="11.8" fill="#089981"/>
<rect x="652.91" y="410.0" width="1.1" height="10.4" fill="#f23645"/>
<rect x="651.36" y="411.3" width="4.2" height="8.1" fill="#f23645"/>
<rect x="658.24" y="418.1" width="1.1" height="9.5" fill="#f23645"/>
<rect x="656.69" y="419.4" width="4.2" height="5.4" fill="#f23645"/>
<rect x="663.56" y="415.8" width="1.1" height="10.3" fill="#089981"/>
<rect x="662.01" y="416.5" width="4.2" height="8.3" fill="#089981"/>
<rect x="668.89" y="401.3" width="1.1" height="16.1" fill="#089981"/>
<rect x="667.34" y="406.5" width="4.2" height="10.0" fill="#089981"/>
<rect x="674.22" y="397.4" width="1.1" height="10.0" fill="#089981"/>
<rect x="672.67" y="398.6" width="4.2" height="7.9" fill="#089981"/>
<rect x="679.54" y="380.6" width="1.1" height="21.0" fill="#089981"/>
<rect x="677.99" y="387.1" width="4.2" height="11.5" fill="#089981"/>
<rect x="684.87" y="382.1" width="1.1" height="15.3" fill="#f23645"/>
<rect x="683.32" y="387.1" width="4.2" height="2.9" fill="#f23645"/>
<rect x="690.20" y="380.1" width="1.1" height="15.8" fill="#089981"/>
<rect x="688.65" y="385.5" width="4.2" height="4.5" fill="#089981"/>
<rect x="695.53" y="374.1" width="1.1" height="17.2" fill="#089981"/>
<rect x="693.98" y="375.6" width="4.2" height="9.9" fill="#089981"/>
<rect x="700.85" y="360.2" width="1.1" height="16.6" fill="#089981"/>
<rect x="699.30" y="363.4" width="4.2" height="12.2" fill="#089981"/>
<rect x="706.18" y="363.0" width="1.1" height="16.1" fill="#f23645"/>
<rect x="704.63" y="363.4" width="4.2" height="12.5" fill="#f23645"/>
<rect x="711.51" y="364.5" width="1.1" height="17.2" fill="#089981"/>
<rect x="709.96" y="370.4" width="4.2" height="5.6" fill="#089981"/>
<rect x="716.83" y="356.4" width="1.1" height="20.1" fill="#089981"/>
<rect x="715.28" y="369.0" width="4.2" height="1.3" fill="#089981"/>
<rect x="722.16" y="357.3" width="1.1" height="25.6" fill="#f23645"/>
<rect x="720.61" y="369.0" width="4.2" height="4.6" fill="#f23645"/>
<rect x="727.49" y="335.1" width="1.1" height="42.5" fill="#089981"/>
<rect x="725.94" y="354.4" width="4.2" height="19.2" fill="#089981"/>
<rect x="732.81" y="343.0" width="1.1" height="15.8" fill="#f23645"/>
<rect x="731.26" y="354.4" width="4.2" height="1.5" fill="#f23645"/>
<rect x="738.14" y="354.5" width="1.1" height="23.8" fill="#f23645"/>
<rect x="736.59" y="355.9" width="4.2" height="15.4" fill="#f23645"/>
<rect x="743.47" y="360.7" width="1.1" height="11.5" fill="#089981"/>
<rect x="741.92" y="368.6" width="4.2" height="2.7" fill="#089981"/>
<rect x="748.80" y="349.2" width="1.1" height="21.0" fill="#089981"/>
<rect x="747.25" y="351.9" width="4.2" height="16.7" fill="#089981"/>
<rect x="754.12" y="321.8" width="1.1" height="32.6" fill="#089981"/>
<rect x="752.57" y="322.6" width="4.2" height="29.3" fill="#089981"/>
<rect x="759.45" y="303.9" width="1.1" height="20.2" fill="#089981"/>
<rect x="757.90" y="304.9" width="4.2" height="17.7" fill="#089981"/>
<rect x="764.78" y="273.2" width="1.1" height="36.8" fill="#089981"/>
<rect x="763.23" y="275.8" width="4.2" height="29.2" fill="#089981"/>
<rect x="770.10" y="236.4" width="1.1" height="61.3" fill="#089981"/>
<rect x="768.55" y="245.8" width="4.2" height="30.0" fill="#089981"/>
<rect x="775.43" y="229.1" width="1.1" height="52.9" fill="#f23645"/>
<rect x="773.88" y="245.8" width="4.2" height="18.8" fill="#f23645"/>
<rect x="780.76" y="264.0" width="1.1" height="45.5" fill="#f23645"/>
<rect x="779.21" y="264.5" width="4.2" height="14.3" fill="#f23645"/>
<rect x="786.08" y="261.0" width="1.1" height="20.2" fill="#089981"/>
<rect x="784.53" y="263.8" width="4.2" height="15.0" fill="#089981"/>
<rect x="791.41" y="263.3" width="1.1" height="34.5" fill="#f23645"/>
<rect x="789.86" y="263.8" width="4.2" height="15.0" fill="#f23645"/>
<rect x="796.74" y="257.6" width="1.1" height="67.3" fill="#f23645"/>
<rect x="795.19" y="278.8" width="4.2" height="23.1" fill="#f23645"/>
<rect x="802.07" y="292.1" width="1.1" height="31.6" fill="#f23645"/>
<rect x="800.51" y="301.9" width="4.2" height="1.2" fill="#f23645"/>
<rect x="807.39" y="287.0" width="1.1" height="21.5" fill="#089981"/>
<rect x="805.84" y="293.6" width="4.2" height="8.8" fill="#089981"/>
<rect x="812.72" y="292.1" width="1.1" height="35.9" fill="#f23645"/>
<rect x="811.17" y="293.6" width="4.2" height="9.8" fill="#f23645"/>
<rect x="818.05" y="296.7" width="1.1" height="25.9" fill="#f23645"/>
<rect x="816.50" y="303.4" width="4.2" height="16.3" fill="#f23645"/>
<rect x="823.37" y="302.3" width="1.1" height="22.2" fill="#089981"/>
<rect x="821.82" y="308.4" width="4.2" height="11.4" fill="#089981"/>
<rect x="828.70" y="241.8" width="1.1" height="68.0" fill="#089981"/>
<rect x="827.15" y="250.1" width="4.2" height="58.3" fill="#089981"/>
<rect x="834.03" y="239.1" width="1.1" height="20.7" fill="#f23645"/>
<rect x="832.48" y="250.1" width="4.2" height="4.0" fill="#f23645"/>
<rect x="839.35" y="246.4" width="1.1" height="22.5" fill="#f23645"/>
<rect x="837.80" y="254.2" width="4.2" height="5.2" fill="#f23645"/>
<rect x="844.68" y="259.0" width="1.1" height="26.8" fill="#f23645"/>
<rect x="843.13" y="259.4" width="4.2" height="6.3" fill="#f23645"/>
<rect x="850.01" y="264.5" width="1.1" height="22.2" fill="#f23645"/>
<rect x="848.46" y="265.7" width="4.2" height="15.8" fill="#f23645"/>
<rect x="855.34" y="276.0" width="1.1" height="19.0" fill="#089981"/>
<rect x="853.78" y="280.0" width="4.2" height="1.5" fill="#089981"/>
<rect x="860.66" y="274.4" width="1.1" height="53.2" fill="#f23645"/>
<rect x="859.11" y="280.0" width="4.2" height="39.4" fill="#f23645"/>
<rect x="865.99" y="292.8" width="1.1" height="34.0" fill="#089981"/>
<rect x="864.44" y="294.6" width="4.2" height="24.8" fill="#089981"/>
<rect x="871.32" y="271.7" width="1.1" height="24.2" fill="#089981"/>
<rect x="869.77" y="272.3" width="4.2" height="22.3" fill="#089981"/>
<rect x="876.64" y="270.9" width="1.1" height="36.0" fill="#f23645"/>
<rect x="875.09" y="272.3" width="4.2" height="20.8" fill="#f23645"/>
<rect x="881.97" y="283.2" width="1.1" height="58.6" fill="#f23645"/>
<rect x="880.42" y="293.1" width="4.2" height="44.8" fill="#f23645"/>
<rect x="887.30" y="335.1" width="1.1" height="46.4" fill="#f23645"/>
<rect x="885.75" y="337.8" width="4.2" height="10.0" fill="#f23645"/>
<rect x="892.62" y="331.0" width="1.1" height="19.5" fill="#089981"/>
<rect x="891.07" y="343.6" width="4.2" height="4.2" fill="#089981"/>
<rect x="897.95" y="327.5" width="1.1" height="21.1" fill="#089981"/>
<rect x="896.40" y="333.2" width="4.2" height="10.4" fill="#089981"/>
<rect x="903.28" y="332.2" width="1.1" height="27.1" fill="#f23645"/>
<rect x="901.73" y="333.2" width="4.2" height="25.0" fill="#f23645"/>
<rect x="908.61" y="347.6" width="1.1" height="31.4" fill="#f23645"/>
<rect x="907.06" y="358.2" width="4.2" height="10.0" fill="#f23645"/>
<rect x="913.93" y="355.1" width="1.1" height="14.2" fill="#089981"/>
<rect x="912.38" y="366.3" width="4.2" height="1.9" fill="#089981"/>
<rect x="919.26" y="342.5" width="1.1" height="28.3" fill="#089981"/>
<rect x="917.71" y="345.9" width="4.2" height="20.3" fill="#089981"/>
<rect x="924.59" y="334.1" width="1.1" height="14.1" fill="#089981"/>
<rect x="923.04" y="339.7" width="4.2" height="6.2" fill="#089981"/>
<rect x="929.91" y="339.4" width="1.1" height="27.3" fill="#f23645"/>
<rect x="928.36" y="339.7" width="4.2" height="17.4" fill="#f23645"/>
<rect x="935.24" y="351.4" width="1.1" height="13.3" fill="#089981"/>
<rect x="933.69" y="354.7" width="4.2" height="2.4" fill="#089981"/>
<rect x="940.57" y="332.5" width="1.1" height="23.3" fill="#089981"/>
<rect x="939.02" y="333.2" width="4.2" height="21.5" fill="#089981"/>
<rect x="945.89" y="331.8" width="1.1" height="29.4" fill="#f23645"/>
<rect x="944.34" y="333.2" width="4.2" height="18.8" fill="#f23645"/>
<rect x="951.22" y="335.3" width="1.1" height="23.0" fill="#f23645"/>
<rect x="949.67" y="352.0" width="4.2" height="3.7" fill="#f23645"/>
<rect x="956.55" y="294.8" width="1.1" height="68.1" fill="#089981"/>
<rect x="955.00" y="299.2" width="4.2" height="56.5" fill="#089981"/>
<rect x="961.88" y="279.8" width="1.1" height="32.2" fill="#f23645"/>
<rect x="960.33" y="299.2" width="4.2" height="8.8" fill="#f23645"/>
<rect x="967.20" y="275.2" width="1.1" height="37.5" fill="#089981"/>
<rect x="965.65" y="285.9" width="4.2" height="22.2" fill="#089981"/>
<rect x="972.53" y="256.0" width="1.1" height="38.3" fill="#089981"/>
<rect x="970.98" y="259.2" width="4.2" height="26.7" fill="#089981"/>
<rect x="977.86" y="229.5" width="1.1" height="45.2" fill="#089981"/>
<rect x="976.31" y="236.0" width="4.2" height="23.2" fill="#089981"/>
<rect x="983.18" y="235.3" width="1.1" height="40.6" fill="#f23645"/>
<rect x="981.63" y="236.0" width="4.2" height="3.9" fill="#f23645"/>
<rect x="988.51" y="228.4" width="1.1" height="77.4" fill="#f23645"/>
<rect x="986.96" y="239.8" width="4.2" height="52.3" fill="#f23645"/>
<rect x="993.84" y="272.1" width="1.1" height="24.5" fill="#089981"/>
<rect x="992.29" y="286.5" width="4.2" height="5.7" fill="#089981"/>
<rect x="999.16" y="262.1" width="1.1" height="28.7" fill="#089981"/>
<rect x="997.61" y="264.6" width="4.2" height="21.9" fill="#089981"/>
<rect x="1004.49" y="256.8" width="1.1" height="44.4" fill="#f23645"/>
<rect x="1002.94" y="264.6" width="4.2" height="29.2" fill="#f23645"/>
<rect x="1009.82" y="273.6" width="1.1" height="46.0" fill="#f23645"/>
<rect x="1008.27" y="293.8" width="4.2" height="3.3" fill="#f23645"/>
<rect x="1015.15" y="279.8" width="1.1" height="22.7" fill="#089981"/>
<rect x="1013.60" y="295.9" width="4.2" height="1.2" fill="#089981"/>
<rect x="1020.47" y="280.8" width="1.1" height="51.1" fill="#f23645"/>
<rect x="1018.92" y="295.9" width="4.2" height="28.1" fill="#f23645"/>
<rect x="1025.80" y="319.2" width="1.1" height="62.6" fill="#f23645"/>
<rect x="1024.25" y="324.0" width="4.2" height="18.4" fill="#f23645"/>
<rect x="1031.13" y="329.9" width="1.1" height="18.2" fill="#089981"/>
<rect x="1029.58" y="339.7" width="4.2" height="2.7" fill="#089981"/>
<rect x="1036.45" y="323.8" width="1.1" height="19.6" fill="#089981"/>
<rect x="1034.90" y="327.3" width="4.2" height="12.4" fill="#089981"/>
<rect x="1041.78" y="326.3" width="1.1" height="58.2" fill="#f23645"/>
<rect x="1040.23" y="327.3" width="4.2" height="23.9" fill="#f23645"/>
<rect x="1047.11" y="350.5" width="1.1" height="41.0" fill="#f23645"/>
<rect x="1045.56" y="351.2" width="4.2" height="38.1" fill="#f23645"/>
<rect x="1052.43" y="379.4" width="1.1" height="29.7" fill="#f23645"/>
<rect x="1050.88" y="389.3" width="4.2" height="10.5" fill="#f23645"/>
<rect x="1057.76" y="385.5" width="1.1" height="15.6" fill="#089981"/>
<rect x="1056.21" y="390.1" width="4.2" height="9.7" fill="#089981"/>
<rect x="1063.09" y="383.2" width="1.1" height="24.8" fill="#f23645"/>
<rect x="1061.54" y="390.1" width="4.2" height="16.1" fill="#f23645"/>
<rect x="1068.42" y="393.9" width="1.1" height="31.7" fill="#f23645"/>
<rect x="1066.87" y="406.2" width="4.2" height="17.5" fill="#f23645"/>
<rect x="1073.74" y="414.5" width="1.1" height="22.8" fill="#089981"/>
<rect x="1072.19" y="421.8" width="4.2" height="1.8" fill="#089981"/>
<rect x="1079.07" y="414.5" width="1.1" height="11.1" fill="#f23645"/>
<rect x="1077.52" y="421.8" width="4.2" height="1.2" fill="#f23645"/>
<rect x="1084.40" y="402.4" width="1.1" height="23.2" fill="#089981"/>
<rect x="1082.85" y="406.9" width="4.2" height="15.8" fill="#089981"/>
<rect x="1089.72" y="400.4" width="1.1" height="10.3" fill="#089981"/>
<rect x="1088.17" y="405.7" width="4.2" height="1.3" fill="#089981"/>
<rect x="1095.05" y="344.4" width="1.1" height="64.6" fill="#089981"/>
<rect x="1093.50" y="351.0" width="4.2" height="54.7" fill="#089981"/>
<rect x="1100.38" y="333.3" width="1.1" height="32.3" fill="#f23645"/>
<rect x="1098.83" y="351.0" width="4.2" height="1.5" fill="#f23645"/>
<rect x="1105.70" y="334.3" width="1.1" height="28.7" fill="#089981"/>
<rect x="1104.15" y="348.3" width="4.2" height="4.2" fill="#089981"/>
<rect x="1111.03" y="329.9" width="1.1" height="24.2" fill="#f23645"/>
<rect x="1109.48" y="348.3" width="4.2" height="1.2" fill="#f23645"/>
<rect x="1116.36" y="339.0" width="1.1" height="21.6" fill="#f23645"/>
<rect x="1114.81" y="349.4" width="4.2" height="2.0" fill="#f23645"/>
<rect x="1121.69" y="322.8" width="1.1" height="34.1" fill="#089981"/>
<rect x="1120.14" y="348.3" width="4.2" height="3.1" fill="#089981"/>
<rect x="1127.01" y="338.0" width="1.1" height="35.7" fill="#f23645"/>
<rect x="1125.46" y="348.3" width="4.2" height="22.1" fill="#f23645"/>
</g>
<g stroke="#f23645" stroke-width="1.8" fill="none">
<line x1="770" y1="221.4" x2="1277.5" y2="399"/>
<line x1="770" y1="315.6" x2="1176" y2="463.5"/>
</g>
<g stroke="#131722" stroke-width="2.1" fill="none" stroke-linejoin="miter" stroke-linecap="round">
<line x1="665.5" y1="415.8" x2="755" y2="217.8"/><polyline points="760.8,233.8 755,217.8 739.2,224.0" />
<line x1="1223.1" y1="376.7" x2="1314.4" y2="173.6"/><polyline points="1320.2,189.6 1314.4,173.6 1298.6,179.9" />
</g>
</g>
<line x1="1314.2" y1="173.8" x2="1517" y2="173.8" stroke="#2962ff" stroke-width="2" stroke-dasharray="2 3.3"/>
<text x="1526.5" y="86.4" font-size="13" fill="#131722" stroke="#131722" stroke-width="0.22" textLength="44" lengthAdjust="spacingAndGlyphs">6,000.0</text>
<text x="1526.5" y="125.0" font-size="13" fill="#131722" stroke="#131722" stroke-width="0.22" textLength="44" lengthAdjust="spacingAndGlyphs">5,500.0</text>
<text x="1526.5" y="163.6" font-size="13" fill="#131722" stroke="#131722" stroke-width="0.22" textLength="44" lengthAdjust="spacingAndGlyphs">5,000.0</text>
<text x="1526.5" y="202.2" font-size="13" fill="#131722" stroke="#131722" stroke-width="0.22" textLength="44" lengthAdjust="spacingAndGlyphs">4,500.0</text>
<text x="1526.5" y="240.8" font-size="13" fill="#131722" stroke="#131722" stroke-width="0.22" textLength="44" lengthAdjust="spacingAndGlyphs">4,000.0</text>
<text x="1526.5" y="279.4" font-size="13" fill="#131722" stroke="#131722" stroke-width="0.22" textLength="44" lengthAdjust="spacingAndGlyphs">3,500.0</text>
<text x="1526.5" y="318.0" font-size="13" fill="#131722" stroke="#131722" stroke-width="0.22" textLength="44" lengthAdjust="spacingAndGlyphs">3,000.0</text>
<text x="1526.5" y="433.8" font-size="13" fill="#131722" stroke="#131722" stroke-width="0.22" textLength="44" lengthAdjust="spacingAndGlyphs">1,500.0</text>
<text x="1526.5" y="472.4" font-size="13" fill="#131722" stroke="#131722" stroke-width="0.22" textLength="44" lengthAdjust="spacingAndGlyphs">1,000.0</text>
<text x="1526.5" y="511.0" font-size="13" fill="#131722" stroke="#131722" stroke-width="0.22" textLength="33" lengthAdjust="spacingAndGlyphs">500.0</text>
<text x="1526.5" y="549.6" font-size="13" fill="#131722" stroke="#131722" stroke-width="0.22" textLength="19" lengthAdjust="spacingAndGlyphs">0.0</text>
<text x="1526.5" y="588.2" font-size="13" fill="#131722" stroke="#131722" stroke-width="0.22" textLength="40" lengthAdjust="spacingAndGlyphs">−500.0</text>
<text x="1526.5" y="395.2" font-size="13" fill="#131722" stroke="#131722" stroke-width="0.22" textLength="44" lengthAdjust="spacingAndGlyphs">2,000.0</text>
<text x="1526.5" y="356.6" font-size="13" fill="#131722" stroke="#131722" stroke-width="0.22" textLength="44" lengthAdjust="spacingAndGlyphs">2,500.0</text>
<text x="1526.5" y="626.8" font-size="13" fill="#131722" stroke="#131722" stroke-width="0.22" textLength="51" lengthAdjust="spacingAndGlyphs">−1,000.0</text>
<rect x="1520.5" y="34.5" width="64" height="27.5" rx="4" fill="#ffffff"/>
<text x="1530.8" y="52.6" font-size="13" fill="#131722" stroke="#131722" stroke-width="0.22" textLength="22.6" lengthAdjust="spacingAndGlyphs">USD</text>
<rect x="1517" y="165.3" width="60.3" height="18" rx="2" fill="#2962ff"/>
<text x="1526.5" y="178.8" font-size="13" fill="#fff" stroke="#fff" stroke-width="0.22" textLength="44" lengthAdjust="spacingAndGlyphs">4,822.9</text>
<rect x="1517" y="338.3" width="60.3" height="19" rx="2" fill="#2962ff"/>
<text x="1526.5" y="352.1" font-size="13" fill="#fff" stroke="#fff" stroke-width="0.22" textLength="44" lengthAdjust="spacingAndGlyphs">2,559.6</text>
<rect x="1517" y="361.7" width="66.3" height="33.6" rx="2" fill="#f23645"/>
<text x="1526.5" y="374.8" font-size="13" fill="#fff" stroke="#fff" stroke-width="0.22" textLength="44" lengthAdjust="spacingAndGlyphs">2,262.2</text>
<text x="1526.5" y="390" font-size="13" fill="#fbd0d4" stroke="#fbd0d4" stroke-width="0.22" textLength="50" lengthAdjust="spacingAndGlyphs">14:12:13</text>
<rect x="1459.9" y="361.7" width="56" height="18.3" rx="2" fill="#f23645"/>
<text x="1465.5" y="374.8" font-size="13" fill="#fff" stroke="#fff" stroke-width="0.22" textLength="46" lengthAdjust="spacingAndGlyphs">ETHUSD</text>
<rect x="1517" y="616" width="57.2" height="18.5" rx="2" fill="#f7525f"/>
<text x="1526.5" y="629.8" font-size="13" fill="#fff" stroke="#fff" stroke-width="0.22" textLength="42" lengthAdjust="spacingAndGlyphs">64.74K</text>
<text x="22.0" y="668.3" font-size="13" fill="#131722" stroke="#131722" stroke-width="0.22" textLength="16.3" lengthAdjust="spacingAndGlyphs">Jul</text>
<text x="154.3" y="668.3" font-size="13" fill="#131722" stroke="#131722" stroke-width="0.22" textLength="30" lengthAdjust="spacingAndGlyphs" font-weight="bold">2022</text>
<text x="299.1" y="668.3" font-size="13" fill="#131722" stroke="#131722" stroke-width="0.22" textLength="16.3" lengthAdjust="spacingAndGlyphs">Jul</text>
<text x="431.3" y="668.3" font-size="13" fill="#131722" stroke="#131722" stroke-width="0.22" textLength="30" lengthAdjust="spacingAndGlyphs" font-weight="bold">2023</text>
<text x="576.1" y="668.3" font-size="13" fill="#131722" stroke="#131722" stroke-width="0.22" textLength="16.3" lengthAdjust="spacingAndGlyphs">Jul</text>
<text x="708.3" y="668.3" font-size="13" fill="#131722" stroke="#131722" stroke-width="0.22" textLength="30" lengthAdjust="spacingAndGlyphs" font-weight="bold">2024</text>
<text x="853.1" y="668.3" font-size="13" fill="#131722" stroke="#131722" stroke-width="0.22" textLength="16.3" lengthAdjust="spacingAndGlyphs">Jul</text>
<text x="990.6" y="668.3" font-size="13" fill="#131722" stroke="#131722" stroke-width="0.22" textLength="30" lengthAdjust="spacingAndGlyphs" font-weight="bold">2025</text>
<text x="1135.4" y="668.3" font-size="13" fill="#131722" stroke="#131722" stroke-width="0.22" textLength="16.3" lengthAdjust="spacingAndGlyphs">Jul</text>
<text x="1267.6" y="668.3" font-size="13" fill="#131722" stroke="#131722" stroke-width="0.22" textLength="30" lengthAdjust="spacingAndGlyphs" font-weight="bold">2026</text>
<text x="1412.4" y="668.3" font-size="13" fill="#131722" stroke="#131722" stroke-width="0.22" textLength="16.3" lengthAdjust="spacingAndGlyphs">Jul</text>
<text x="11.9" y="22" font-size="13.6" fill="#131722" stroke="#131722" stroke-width="0.22" textLength="56.4" lengthAdjust="spacingAndGlyphs">tayatatev</text>
<text x="72.7" y="22" font-size="13.6" fill="#131722" stroke="#131722" stroke-width="0.22" textLength="55.3" lengthAdjust="spacingAndGlyphs">published</text>
<text x="133.5" y="22" font-size="13.6" fill="#131722" stroke="#131722" stroke-width="0.22" textLength="13.1" lengthAdjust="spacingAndGlyphs">on</text>
<text x="152.1" y="22" font-size="13.6" fill="#131722" stroke="#131722" stroke-width="0.22" textLength="101.4" lengthAdjust="spacingAndGlyphs">TradingView.com,</text>
<text x="261" y="22" font-size="13.6" fill="#131722" stroke="#131722" stroke-width="0.22" textLength="20" lengthAdjust="spacingAndGlyphs">Jun</text>
<text x="286.5" y="22" font-size="13.6" fill="#131722" stroke="#131722" stroke-width="0.22" textLength="17" lengthAdjust="spacingAndGlyphs">22,</text>
<text x="308.5" y="22" font-size="13.6" fill="#131722" stroke="#131722" stroke-width="0.22" textLength="25.5" lengthAdjust="spacingAndGlyphs">2025</text>
<text x="340" y="22" font-size="13.6" fill="#131722" stroke="#131722" stroke-width="0.22" textLength="30" lengthAdjust="spacingAndGlyphs">09:47</text>
<text x="376.5" y="22" font-size="13.6" fill="#131722" stroke="#131722" stroke-width="0.22" textLength="23" lengthAdjust="spacingAndGlyphs">UTC</text>
<text x="20.4" y="51.6" font-size="13" fill="#131722" stroke="#131722" stroke-width="0.22" textLength="56.3" lengthAdjust="spacingAndGlyphs">Ethereum</text>
<text x="83.1" y="51.6" font-size="13" fill="#131722" stroke="#131722" stroke-width="0.22">/</text>
<text x="92.7" y="51.6" font-size="13" fill="#131722" stroke="#131722" stroke-width="0.22" textLength="22.6" lengthAdjust="spacingAndGlyphs">U.S.</text>
<text x="121.6" y="51.6" font-size="13" fill="#131722" stroke="#131722" stroke-width="0.22" textLength="33.8" lengthAdjust="spacingAndGlyphs">Dollar</text>
<text x="161.0" y="51.6" font-size="13" fill="#131722" stroke="#131722" stroke-width="0.22">·</text>
<text x="169.4" y="51.6" font-size="13" fill="#131722" stroke="#131722" stroke-width="0.22" textLength="17.3" lengthAdjust="spacingAndGlyphs">1W</text>
<text x="192.2" y="51.6" font-size="13" fill="#131722" stroke="#131722" stroke-width="0.22">·</text>
<text x="200" y="51.6" font-size="13" fill="#131722" stroke="#131722" stroke-width="0.22" textLength="56" lengthAdjust="spacingAndGlyphs">BITSTAMP</text>
<text x="264.5" y="51.6" font-size="13" fill="#131722" stroke="#131722" stroke-width="0.22">O</text>
<text x="273.5" y="51.6" font-size="13" fill="#f23645" stroke="#f23645" stroke-width="0.22" textLength="43.6" lengthAdjust="spacingAndGlyphs">2,548.5</text>
<text x="326" y="51.6" font-size="13" fill="#131722" stroke="#131722" stroke-width="0.22">H</text>
<text x="334.5" y="51.6" font-size="13" fill="#f23645" stroke="#f23645" stroke-width="0.22" textLength="43.6" lengthAdjust="spacingAndGlyphs">2,681.1</text>
<text x="387" y="51.6" font-size="13" fill="#131722" stroke="#131722" stroke-width="0.22">L</text>
<text x="393.5" y="51.6" font-size="13" fill="#f23645" stroke="#f23645" stroke-width="0.22" textLength="43.6" lengthAdjust="spacingAndGlyphs">2,218.6</text>
<text x="446" y="51.6" font-size="13" fill="#131722" stroke="#131722" stroke-width="0.22">C</text>
<text x="454" y="51.6" font-size="13" fill="#f23645" stroke="#f23645" stroke-width="0.22" textLength="43.6" lengthAdjust="spacingAndGlyphs">2,262.2</text>
<text x="507" y="51.6" font-size="13" fill="#f23645" stroke="#f23645" stroke-width="0.22" textLength="99.5" lengthAdjust="spacingAndGlyphs">−285.8 (−11.22%)</text>
<text x="20.5" y="70" font-size="13" fill="#131722" stroke="#131722" stroke-width="0.22" textLength="16.6" lengthAdjust="spacingAndGlyphs">Vol</text>
<text x="42.0" y="70" font-size="13" fill="#131722" stroke="#131722" stroke-width="0.22">·</text>
<text x="51.4" y="70" font-size="13" fill="#131722" stroke="#131722" stroke-width="0.22" textLength="22.2" lengthAdjust="spacingAndGlyphs">ETH</text>
<text x="82.5" y="70" font-size="13" fill="#f23645" stroke="#f23645" stroke-width="0.22" textLength="42.5" lengthAdjust="spacingAndGlyphs">64.74 K</text>
<text x="20.7" y="88.8" font-size="13" fill="#131722" stroke="#131722" stroke-width="0.22" textLength="23.7" lengthAdjust="spacingAndGlyphs">EMA</text>
<text x="49.3" y="88.8" font-size="13" fill="#131722" stroke="#131722" stroke-width="0.22" textLength="21.7" lengthAdjust="spacingAndGlyphs">(50,</text>
<text x="76.5" y="88.8" font-size="13" fill="#131722" stroke="#131722" stroke-width="0.22" textLength="34.3" lengthAdjust="spacingAndGlyphs">close)</text>
<text x="119" y="88.8" font-size="13" fill="#2962ff" stroke="#2962ff" stroke-width="0.22" textLength="44" lengthAdjust="spacingAndGlyphs">2,559.6</text>
<g>
<circle cx="1128" cy="606" r="10.9" fill="#f0fafb" stroke="#50535e" stroke-width="1.3"/>
<path d="M1130.3 600.2 L1124.4 607.6 L1131.6 605.6 L1125.9 612.2" fill="none" stroke="#434651" stroke-width="1.3"/>
<circle cx="1115.7" cy="610.1" r="6.2" fill="#eef9fb"/>
<path d="M1115.7 604 C1116.4 608.2 1117.3 609.2 1121.2 610.1 C1117.3 611 1116.4 612 1115.7 616.2 C1115 612 1114.1 611 1110.2 610.1 C1114.1 609.2 1115 608.2 1115.7 604Z" fill="#2962ff"/>
<circle cx="1133.3" cy="633.3" r="10.9" fill="#fdeced" stroke="#f23645" stroke-width="1.5"/>
<circle cx="1128.6" cy="633.3" r="10.9" fill="#ffffff" stroke="#f23645" stroke-width="1.5"/>
<clipPath id="fl"><circle cx="1128.6" cy="633.3" r="8.7"/></clipPath>
<g clip-path="url(#fl)">
<rect x="1119" y="624" width="20" height="19" fill="#fff"/>
<rect x="1119" y="625.4" width="20" height="2.7" fill="#ef5b60"/>
<rect x="1119" y="630.8" width="20" height="2.7" fill="#ef5b60"/>
<rect x="1119" y="636.2" width="20" height="2.7" fill="#ef5b60"/>
<rect x="1119" y="641.6" width="20" height="2.7" fill="#ef5b60"/>
<rect x="1119" y="624" width="9.8" height="9.6" fill="#3d73ff"/>
<g stroke="#dfe8ff" stroke-width="0.7"><line x1="1122.6" y1="624" x2="1122.6" y2="633.6"/><line x1="1125.6" y1="624" x2="1125.6" y2="633.6"/><line x1="1119" y1="627.4" x2="1128.8" y2="627.4"/><line x1="1119" y1="630.4" x2="1128.8" y2="630.4"/></g>
</g>
</g>
<g fill="#1e222d">
<path d="M11.3 693.2 H21 V703.8 H15 V697.3 H11.3 Z"/>
<circle cx="23.4" cy="695.1" r="1.95"/>
<path d="M26.3 693.2 H32.6 L29.5 703.8 H23.2 Z"/>
<text x="37.2" y="703.8" font-size="13.7" fill="#1e222d" textLength="76.8" lengthAdjust="spacingAndGlyphs">TradingView</text>
</g>
</svg></body></html>
